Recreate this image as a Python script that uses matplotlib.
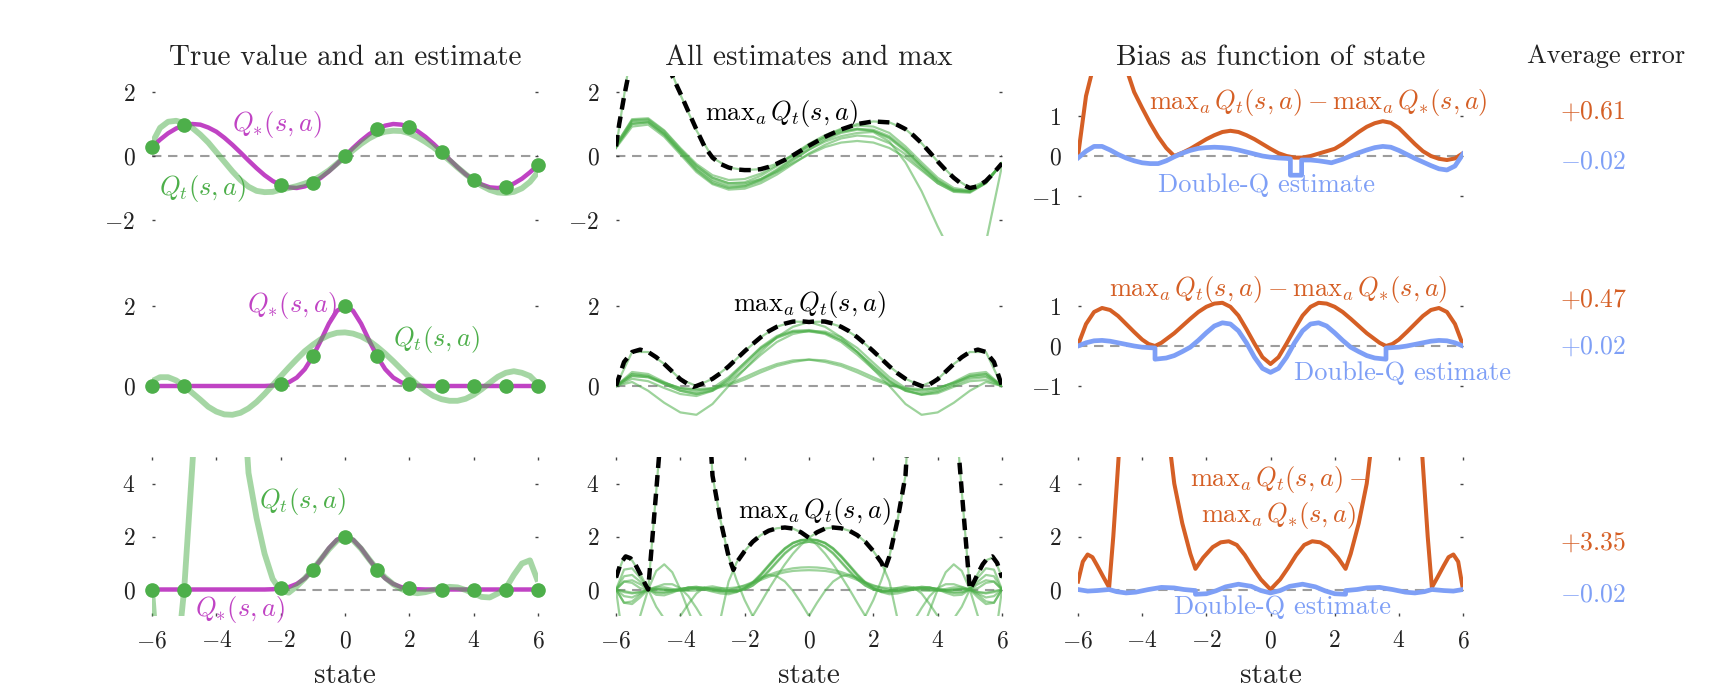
import numpy as np
import matplotlib
matplotlib.use('Agg')
import matplotlib.pyplot as plt

plt.rcParams['font.family'] = 'serif'
plt.rcParams['font.serif'] = ['cmr10']
plt.rcParams['mathtext.fontset'] = 'cm'
plt.rcParams['axes.unicode_minus'] = False

# ---- state grids ----
s_fine = [-6, -5.75, -5.5, -5.25, -5, -4.75, -4.5, -4.25, -4, -3.75, -3.5, -3.25,
          -3, -2.75, -2.5, -2.25, -2, -1.75, -1.5, -1.25, -1, -0.75, -0.5, -0.25,
          0, 0.25, 0.5, 0.75, 1, 1.25, 1.5, 1.75, 2, 2.25, 2.5, 2.75, 3, 3.25,
          3.5, 3.75, 4, 4.25, 4.5, 4.75, 5, 5.25, 5.5, 5.75, 6]
s_coarse = [-6, -5.5, -5, -4.5, -4, -3.5, -3, -2.5, -2, -1.5, -1, -0.5, 0,
            0.5, 1, 1.5, 2, 2.5, 3, 3.5, 4, 4.5, 5, 5.5, 6]
sample_states = [-6, -5, -2, -1, 0, 1, 2, 3, 4, 5, 6]

# ---- left column: true value and one estimate ----
qstar_sin = [0.28, 0.51, 0.71, 0.86, 0.96, 1.00, 0.98, 0.89, 0.76, 0.57, 0.35, 0.11,
             -0.14, -0.38, -0.60, -0.78, -0.91, -0.98, -1.00, -0.95, -0.84, -0.68, -0.48, -0.25,
             0.00, 0.25, 0.48, 0.68, 0.84, 0.95, 1.00, 0.98, 0.91, 0.78, 0.60, 0.38, 0.14,
             -0.11, -0.35, -0.57, -0.76, -0.89, -0.98, -1.00, -0.96, -0.86, -0.71, -0.51, -0.28]
qstar_gauss = [0, 0, 0, 0, 0, 0, 0, 0, 0, 0, 0, 0, 0, 0, 0,
               0.01, 0.04, 0.09, 0.21, 0.42, 0.74, 1.14, 1.56, 1.88, 2.00,
               1.88, 1.56, 1.14, 0.74, 0.42, 0.21, 0.09, 0.04, 0.01,
               0, 0, 0, 0, 0, 0, 0, 0, 0, 0, 0, 0, 0, 0, 0]
dots_sin = [0.28, 0.96, -0.91, -0.84, 0.0, 0.84, 0.91, 0.14, -0.76, -0.96, -0.28]
dots_gauss = [0, 0, 0.04, 0.74, 2.0, 0.74, 0.04, 0, 0, 0, 0]

qt_top = [0.40, 0.88, 1.07, 1.10, 1.03, 0.88, 0.67, 0.42, 0.12, -0.18,
          -0.48, -0.75, -0.96, -1.09, -1.13, -1.12, -1.05, -1.00, -0.94, -0.86,
          -0.77, -0.62, -0.45, -0.24, -0.03,
          0.18, 0.38, 0.55, 0.68, 0.76, 0.79, 0.78, 0.71, 0.59, 0.44,
          0.27, 0.07, -0.14, -0.36, -0.57, -0.76, -0.93, -1.06, -1.14, -1.16,
          -1.12, -1.01, -0.81, -0.50]
qt_mid = [0.12, 0.22, 0.22, 0.14, 0.00, -0.17, -0.34, -0.52, -0.64, -0.71,
          -0.72, -0.67, -0.56, -0.40, -0.20, 0.02, 0.24, 0.46, 0.67, 0.87,
          1.03, 1.17, 1.27, 1.33, 1.34,
          1.31, 1.24, 1.13, 0.98, 0.81, 0.62, 0.42, 0.22, 0.04, -0.12,
          -0.25, -0.33, -0.37, -0.37, -0.32, -0.22, -0.08, 0.08, 0.23, 0.33,
          0.37, 0.33, 0.25, 0.05]
qt_bot = [0.0, -4.0, -5.0, -3.0, 0.0, 4.6, 9.5, 13.0, 15.0, 15.0,
          13.0, 9.0, 4.4, 2.7, 1.35, 0.4, -0.05, -0.12, 0.12, 0.42,
          0.76, 1.14, 1.52, 1.84, 1.97,
          1.86, 1.54, 1.14, 0.76, 0.45, 0.2, 0.02, -0.1, -0.14, -0.1,
          -0.02, 0.05, 0.1, 0.08, -0.02, -0.15, -0.28, -0.3, -0.15, 0.05,
          0.55, 0.98, 1.1, 0.3]

# ---- middle column: all estimates (top row, coarse grid) ----
est_top_a = [0.25, 3.5, 4.5, 3.2, 1.92, 0.8, -0.05, -0.36, -0.44, -0.41, -0.24, 0.02, 0.32,
             0.6, 0.83, 1.0, 1.08, 1.05, 0.84, 0.4, -0.17, -0.68, -1.0, -0.78, -0.23]
est_top_b = [0.3, 1.0, 1.05, 0.65, 0.1, -0.45, -0.85, -1.0, -0.95, -0.75, -0.45, -0.1, 0.2,
             0.45, 0.62, 0.72, 0.75, 0.45, -0.2, -1.1, -2.2, -3.2, -3.4, -2.7, -0.3]
est_top_c1 = [0.35, 1.15, 1.18, 0.8, 0.25, -0.25, -0.6, -0.75, -0.72, -0.55, -0.28, 0.05, 0.38,
              0.65, 0.85, 0.95, 0.92, 0.72, 0.3, -0.2, -0.68, -1.0, -1.08, -0.8, -0.23]
est_top_c2 = [0.3, 1.1, 1.12, 0.72, 0.15, -0.38, -0.75, -0.92, -0.9, -0.72, -0.42, -0.06, 0.28,
              0.55, 0.75, 0.85, 0.82, 0.62, 0.22, -0.28, -0.75, -1.05, -1.1, -0.82, -0.23]
est_top_c3 = [0.25, 0.92, 0.98, 0.6, 0.05, -0.5, -0.88, -1.05, -1.02, -0.85, -0.58, -0.25, 0.08,
              0.35, 0.55, 0.64, 0.6, 0.4, 0.05, -0.4, -0.85, -1.12, -1.15, -0.85, -0.23]
est_top_c4 = [0.3, 1.05, 1.08, 0.7, 0.18, -0.32, -0.68, -0.85, -0.85, -0.72, -0.5, -0.22, 0.05,
              0.28, 0.42, 0.47, 0.42, 0.25, -0.05, -0.45, -0.85, -1.1, -1.12, -0.85, -0.23]
est_top_c5 = [0.35, 1.12, 1.15, 0.78, 0.22, -0.3, -0.68, -0.85, -0.82, -0.62, -0.32, 0.02, 0.35,
              0.6, 0.78, 0.85, 0.78, 0.55, 0.15, -0.33, -0.78, -1.06, -1.1, -0.82, -0.23]
est_top_c6 = [0.28, 1.0, 1.05, 0.68, 0.12, -0.42, -0.8, -0.98, -0.95, -0.78, -0.5, -0.15, 0.2,
              0.5, 0.72, 0.82, 0.78, 0.58, 0.18, -0.32, -0.78, -1.08, -1.12, -0.84, -0.23]
max_top_s = [-6, -5.9, -5.75, -5.6, -5.0, -4.5, -4.25, -4.0, -3.75, -3.5, -3.25, -3.0, -2.75,
             -2.5, -2.25, -2.0, -1.75, -1.5, -1.25, -1.0, -0.75, -0.5, -0.25, 0, 0.5, 1.0,
             1.5, 2.0, 2.5, 2.75, 3.0, 3.25, 3.5, 3.75, 4.0, 4.25, 4.5, 4.75, 5.0, 5.25,
             5.5, 5.75, 6.0]
max_top_v = [0.3, 1.0, 1.85, 2.6, 4.0, 3.2, 2.5, 1.96, 1.39, 0.83, 0.3, -0.05, -0.25,
             -0.36, -0.42, -0.44, -0.44, -0.41, -0.34, -0.24, -0.12, 0.02, 0.17, 0.32, 0.6, 0.83,
             1.0, 1.08, 1.05, 0.97, 0.84, 0.64, 0.4, 0.12, -0.17, -0.44, -0.68, -0.88, -1.0, -0.95,
             -0.78, -0.52, -0.23]

# ---- middle column: all estimates (middle row, coarse grid) ----
est_mid_dl = [0.0, 0.85, 0.85, 0.55, 0.17, 0.0, 0.18, 0.49, 0.87, 1.22, 1.48, 1.61, 1.6,
              1.48, 1.22, 0.85, 0.42, 0.0, -0.45, -0.72, -0.66, -0.42, -0.12, 0.1, 0.0]
est_mid_dr = [0.0, 0.1, -0.12, -0.42, -0.66, -0.72, -0.45, 0.0, 0.42, 0.85, 1.22, 1.48, 1.6,
              1.61, 1.48, 1.22, 0.87, 0.49, 0.18, 0.0, 0.17, 0.55, 0.85, 0.85, 0.0]
est_mid_m1 = [0.0, 0.35, 0.3, 0.1, -0.08, -0.15, -0.05, 0.22, 0.58, 0.95, 1.22, 1.36, 1.38,
              1.3, 1.1, 0.78, 0.42, 0.1, -0.12, -0.2, -0.12, 0.05, 0.25, 0.3, 0.0]
est_mid_m2 = [0.0, 0.3, 0.25, 0.05, -0.12, -0.2, -0.12, 0.1, 0.42, 0.78, 1.1, 1.3, 1.38,
              1.36, 1.22, 0.95, 0.58, 0.22, -0.05, -0.15, -0.08, 0.1, 0.3, 0.35, 0.0]
est_mid_m3 = [0.0, 0.25, 0.22, 0.05, -0.12, -0.2, -0.1, 0.15, 0.52, 0.92, 1.2, 1.35, 1.36,
              1.32, 1.15, 0.85, 0.48, 0.12, -0.12, -0.22, -0.15, 0.02, 0.18, 0.22, 0.0]
est_mid_m4 = [0.0, 0.18, 0.12, -0.05, -0.2, -0.25, -0.12, 0.18, 0.58, 0.97, 1.25, 1.38, 1.4,
              1.33, 1.15, 0.85, 0.5, 0.15, -0.1, -0.22, -0.18, -0.02, 0.12, 0.15, 0.0]
est_mid_l1 = [0.0, 0.3, 0.25, 0.08, -0.05, -0.08, -0.05, 0.05, 0.22, 0.4, 0.55, 0.64, 0.66,
              0.6, 0.5, 0.34, 0.16, 0.02, -0.08, -0.1, -0.05, 0.08, 0.22, 0.25, 0.0]
est_mid_l2 = [0.0, 0.25, 0.22, 0.08, -0.05, -0.1, -0.08, 0.02, 0.16, 0.34, 0.5, 0.6, 0.66,
              0.64, 0.55, 0.4, 0.22, 0.05, -0.05, -0.08, -0.05, 0.08, 0.25, 0.3, 0.0]
max_mid_s = [-6, -5.75, -5.5, -5.25, -5, -4.75, -4.5, -4.25, -4, -3.75, -3.6, -3.5, -3.25,
             -3, -2.75, -2.5, -2.25, -2, -1.75, -1.5, -1.25, -1, -0.75, -0.5, -0.25, 0,
             0.25, 0.5, 0.75, 1, 1.25, 1.5, 1.75, 2, 2.25, 2.5, 2.75, 3, 3.25, 3.5, 3.6,
             3.75, 4, 4.25, 4.5, 4.75, 5, 5.25, 5.5, 5.75, 6]
max_mid_v = [0.0, 0.6, 0.85, 0.91, 0.85, 0.72, 0.55, 0.36, 0.17, 0.04, -0.02, 0.0, 0.08,
             0.18, 0.32, 0.49, 0.68, 0.87, 1.05, 1.22, 1.37, 1.48, 1.56, 1.61, 1.62, 1.6,
             1.62, 1.61, 1.56, 1.48, 1.37, 1.22, 1.05, 0.87, 0.68, 0.49, 0.32, 0.18, 0.08, 0.0, -0.02,
             0.04, 0.17, 0.36, 0.55, 0.72, 0.85, 0.91, 0.85, 0.6, 0.0]

# ---- middle column: all estimates (bottom row, fine grid) ----
est_bot_el = [0.0, -2.2, -2.0, -1.0, 0.0, 3.7, 7.5, 11.0, 13.0, 14.0,
              13.0, 9.5, 4.3, 2.6, 1.25, 0.35, -0.4, -1.0, -1.5, -1.9,
              -2.1, -2.1, -1.9, -1.5, -1.0,
              -0.5, -0.05, 0.3, 0.5, 0.55, 0.45, 0.25, 0.05, -0.1, -0.18,
              -0.15, -0.08, 0.0, 0.05, 0.06, 0.03, -0.02, -0.03, 0.0, 0.0,
              -0.2, -0.45, -0.5, 0.0]
est_bot_er = [0.0, -0.5, -0.45, -0.2, 0.0, 0.0, -0.03, -0.02, 0.03, 0.06,
              0.05, 0.0, -0.08, -0.15, -0.18, -0.1, 0.05, 0.25, 0.45, 0.55,
              0.5, 0.3, -0.05, -0.5, -1.0,
              -1.5, -1.9, -2.1, -2.1, -1.9, -1.5, -1.0, -0.4, 0.35, 1.25,
              2.6, 4.3, 9.5, 13.0, 14.0, 13.0, 11.0, 7.5, 3.7, 0.0,
              -1.0, -2.0, -2.2, 0.0]
est_bot_fl = [0.0, 0.3, 0.25, 0.05, 0.0, 0.7, 0.95, 0.65, 0.0, -0.8,
              -1.6, -2.0, -1.8, -1.1, 0.3, 1.02, 1.45, 1.8, 2.05, 2.22,
              2.31, 2.34, 2.3, 2.16, 1.95,
              1.68, 1.35, 0.95, 0.5, 0.02, -0.5, -1.0, -1.5, -1.9, -2.1,
              -2.0, -1.7, -1.2, -0.7, -0.25, 0.05, 0.2, 0.2, 0.1, 0.0,
              -0.1, -0.12, -0.06, 0.0]
est_bot_fr = [0.0, -0.06, -0.12, -0.1, 0.0, 0.1, 0.2, 0.2, 0.05, -0.25,
              -0.7, -1.2, -1.7, -2.0, -2.1, -1.9, -1.5, -1.0, -0.5, 0.02,
              0.5, 0.95, 1.35, 1.68, 1.95,
              2.16, 2.3, 2.34, 2.31, 2.22, 2.05, 1.8, 1.45, 1.02, 0.3,
              -1.1, -1.8, -2.0, -1.6, -0.8, 0.0, 0.65, 0.95, 0.7, 0.0,
              0.05, 0.25, 0.3, 0.0]
est_bot_bl = [0.45, 1.22, 1.1, 0.6, 0.0, -0.65, -1.1, -1.25, -1.0, -0.55,
              -0.15, 0.08, 0.12, 0.06, -0.04, -0.08, 0.0, 0.15, 0.4, 0.72,
              1.05, 1.38, 1.62, 1.76, 1.8,
              1.76, 1.6, 1.35, 1.02, 0.68, 0.38, 0.15, 0.0, -0.06, -0.05,
              0.0, 0.04, 0.05, 0.03, 0.0, -0.02, -0.02, 0.0, 0.02, 0.0,
              -0.1, -0.15, -0.1, 0.0]
est_bot_br = [0.0, -0.1, -0.15, -0.1, 0.0, 0.02, 0.0, -0.02, -0.02, 0.0,
              0.03, 0.05, 0.04, 0.0, -0.05, -0.06, 0.0, 0.15, 0.38, 0.68,
              1.02, 1.35, 1.6, 1.76, 1.8,
              1.76, 1.62, 1.38, 1.05, 0.72, 0.4, 0.15, 0.0, -0.08, -0.04,
              0.06, 0.12, 0.08, -0.15, -0.55, -1.0, -1.25, -1.1, -0.65, 0.0,
              0.6, 1.1, 1.22, 0.45]
est_bot_g1 = [0.0, 0.3, 0.35, 0.2, 0.0, -0.1, -0.12, -0.08, 0.0, 0.08,
              0.1, 0.06, 0.0, -0.08, -0.12, -0.08, 0.05, 0.25, 0.55, 0.9,
              1.25, 1.55, 1.76, 1.87, 1.9,
              1.87, 1.76, 1.55, 1.25, 0.9, 0.55, 0.25, 0.05, -0.08, -0.12,
              -0.08, 0.0, 0.06, 0.1, 0.08, 0.0, -0.08, -0.12, -0.1, 0.0,
              0.2, 0.35, 0.3, 0.0]
est_bot_g3 = [0.0, 0.75, 0.8, 0.45, 0.0, -0.2, -0.22, -0.12, 0.0, 0.08,
              0.1, 0.06, 0.0, -0.05, -0.06, -0.02, 0.08, 0.28, 0.58, 0.93,
              1.27, 1.56, 1.76, 1.86, 1.88,
              1.85, 1.74, 1.52, 1.22, 0.88, 0.53, 0.24, 0.05, -0.06, -0.08,
              -0.04, 0.02, 0.06, 0.05, 0.0, -0.05, -0.05, 0.0, 0.02, 0.0,
              -0.3, -0.55, -0.5, 0.0]
est_bot_g4 = [0.0, -0.5, -0.55, -0.3, 0.0, 0.02, 0.0, -0.05, -0.05, 0.0,
              0.05, 0.06, 0.02, -0.04, -0.08, -0.06, 0.05, 0.24, 0.53, 0.88,
              1.22, 1.52, 1.74, 1.85, 1.88,
              1.86, 1.76, 1.56, 1.27, 0.93, 0.58, 0.28, 0.08, -0.02, -0.06,
              -0.05, 0.0, 0.06, 0.1, 0.08, 0.0, -0.12, -0.22, -0.2, 0.0,
              0.45, 0.8, 0.75, 0.0]
est_bot_h1 = [0.0, 0.5, 0.55, 0.3, 0.0, -0.12, -0.12, -0.05, 0.02, 0.06,
              0.05, 0.0, -0.05, -0.06, -0.02, 0.06, 0.16, 0.28, 0.42, 0.55,
              0.66, 0.74, 0.8, 0.83, 0.84,
              0.83, 0.8, 0.74, 0.66, 0.55, 0.42, 0.28, 0.16, 0.06, -0.02,
              -0.06, -0.05, 0.0, 0.05, 0.06, 0.02, -0.05, -0.12, -0.12, 0.0,
              0.3, 0.55, 0.5, 0.0]
est_bot_h2 = [0.0, -0.25, -0.3, -0.15, 0.0, 0.08, 0.08, 0.02, -0.03, -0.05,
              -0.04, 0.0, 0.04, 0.05, 0.05, 0.08, 0.14, 0.24, 0.36, 0.48,
              0.58, 0.65, 0.7, 0.72, 0.73,
              0.72, 0.7, 0.65, 0.58, 0.48, 0.36, 0.24, 0.14, 0.08, 0.05,
              0.05, 0.04, 0.0, -0.04, -0.05, -0.03, 0.02, 0.08, 0.08, 0.0,
              -0.15, -0.3, -0.25, 0.0]
max_bot_s = [-6, -5.85, -5.7, -5.55, -5.4, -5.25, -5.1, -5.0, -4.75, -4.5, -4.0, -3.5,
             -3.25, -3.0, -2.75, -2.5, -2.35, -2.25, -2.0, -1.75, -1.5, -1.25, -1.0,
             -0.75, -0.5, -0.25, 0, 0.25, 0.5, 0.75, 1.0, 1.25, 1.5, 1.75, 2.0, 2.25,
             2.35, 2.5, 2.75, 3.0, 3.25, 3.5, 4.0, 4.5, 4.75, 5.0, 5.1, 5.25, 5.4,
             5.55, 5.7, 5.85, 6]
max_bot_v = [0.45, 1.0, 1.25, 1.18, 0.95, 0.6, 0.22, 0.0, 3.7, 7.5, 13.0, 13.0,
             9.5, 4.3, 2.6, 1.25, 0.74, 1.02, 1.45, 1.8, 2.05, 2.22, 2.31,
             2.34, 2.3, 2.16, 1.95, 2.16, 2.3, 2.34, 2.31, 2.22, 2.05, 1.8, 1.45, 1.02,
             0.74, 1.25, 2.6, 4.3, 9.5, 13.0, 13.0, 7.5, 3.7, 0.0, 0.22, 0.6, 0.95,
             1.18, 1.25, 1.0, 0.45]

# ---- right column: bias ----
bias_top = [0.0, 1.5, 2.3, 3.0, 3.4, 3.0, 2.2, 1.6, 1.2, 0.82,
            0.48, 0.2, 0.0, 0.08, 0.18, 0.3, 0.42, 0.52, 0.6, 0.63,
            0.6, 0.52, 0.42, 0.3, 0.18,
            0.07, 0.0, -0.04, -0.04, 0.0, 0.06, 0.12, 0.18, 0.3, 0.45,
            0.6, 0.73, 0.82, 0.87, 0.83, 0.7, 0.5, 0.3, 0.12, 0.0,
            -0.07, -0.1, -0.06, 0.07]
dq_top_s = [-6, -5.75, -5.5, -5.25, -5, -4.75, -4.5, -4.25, -4, -3.75, -3.5, -3.25, -3,
            -2.75, -2.5, -2.25, -2, -1.75, -1.5, -1.25, -1, -0.75, -0.5, -0.25, 0, 0.25,
            0.5, 0.62, 0.62, 0.97, 0.97, 1.25, 1.5, 1.75, 1.9, 2.25, 2.5, 2.75, 3, 3.25,
            3.5, 3.75, 4, 4.25, 4.5, 4.75, 5, 5.25, 5.5, 5.75, 6]
dq_top_v = [-0.05, 0.12, 0.24, 0.24, 0.15, 0.04, -0.05, -0.12, -0.17, -0.19, -0.19, -0.12, -0.02,
            0.07, 0.14, 0.19, 0.21, 0.22, 0.21, 0.19, 0.15, 0.1, 0.05, 0.0, -0.03, -0.05,
            -0.06, -0.07, -0.48, -0.48, -0.1, -0.1, -0.12, -0.15, -0.17, -0.08, 0.0, 0.08, 0.15, 0.21,
            0.24, 0.22, 0.14, 0.04, -0.06, -0.15, -0.24, -0.32, -0.35, -0.25, 0.05]

bias_mid_s = [-6, -5.75, -5.5, -5.25, -5, -4.75, -4.5, -4.25, -4, -3.8, -3.6, -3.4, -3.25,
              -3, -2.75, -2.5, -2.25, -2, -1.75, -1.5, -1.25, -1, -0.75, -0.5, -0.25, 0,
              0.25, 0.5, 0.75, 1, 1.25, 1.5, 1.75, 2, 2.25, 2.5, 2.75, 3, 3.25, 3.4, 3.6,
              3.8, 4, 4.25, 4.5, 4.75, 5, 5.25, 5.5, 5.75, 6]
bias_mid_v = [0.02, 0.55, 0.85, 0.95, 0.9, 0.75, 0.55, 0.35, 0.16, 0.05, 0.0, 0.08, 0.17,
              0.32, 0.5, 0.68, 0.85, 0.98, 1.06, 1.08, 0.98, 0.76, 0.42, 0.06, -0.28, -0.45,
              -0.28, 0.06, 0.42, 0.76, 0.98, 1.08, 1.06, 0.98, 0.85, 0.68, 0.5, 0.32, 0.17, 0.08, 0.0,
              0.05, 0.16, 0.35, 0.55, 0.75, 0.9, 0.95, 0.85, 0.55, 0.02]
dq_mid_s = [-6, -5.75, -5.5, -5.25, -5, -4.75, -4.5, -4.25, -4, -3.6, -3.6, -3.25, -3,
            -2.75, -2.5, -2.25, -2, -1.75, -1.5, -1.25, -1, -0.75, -0.5, -0.25, 0,
            0.25, 0.5, 0.75, 1, 1.25, 1.5, 1.75, 2, 2.25, 2.5, 2.75, 3, 3.25, 3.6, 3.6,
            4, 4.25, 4.5, 4.75, 5, 5.25, 5.5, 5.75, 6]
dq_mid_v = [0.0, 0.08, 0.13, 0.14, 0.12, 0.08, 0.04, 0.0, -0.03, -0.05, -0.33, -0.3, -0.24,
            -0.14, -0.03, 0.14, 0.33, 0.5, 0.58, 0.55, 0.38, 0.08, -0.28, -0.56, -0.66,
            -0.56, -0.28, 0.08, 0.38, 0.55, 0.58, 0.5, 0.33, 0.14, -0.03, -0.14, -0.24, -0.3, -0.33, -0.05,
            -0.03, 0.0, 0.04, 0.08, 0.12, 0.14, 0.13, 0.08, 0.0]

bias_bot_s = [-6, -5.85, -5.7, -5.55, -5.4, -5.2, -5.03, -4.9, -4.75, -4.6, -4.0, -3.5,
              -3.2, -3.0, -2.75, -2.5, -2.34, -2.1, -1.8, -1.55, -1.3, -1.05, -0.8, -0.55,
              -0.3, 0, 0.3, 0.55, 0.8, 1.05, 1.3, 1.55, 1.8, 2.1, 2.34, 2.5, 2.75, 3.0,
              3.2, 3.5, 4.0, 4.6, 4.75, 4.9, 5.03, 5.2, 5.4, 5.55, 5.7, 5.85, 6]
bias_bot_v = [0.3, 1.05, 1.32, 1.22, 0.9, 0.45, 0.08, 2.0, 4.7, 7.5, 12.0, 10.0,
              6.0, 4.0, 2.5, 1.35, 0.78, 1.2, 1.6, 1.78, 1.82, 1.68, 1.3, 0.82,
              0.38, 0.0, 0.38, 0.82, 1.3, 1.68, 1.82, 1.78, 1.6, 1.2, 0.78, 1.35, 2.5, 4.0,
              6.0, 10.0, 12.0, 7.5, 4.7, 2.0, 0.08, 0.45, 0.9, 1.22, 1.32, 1.05, 0.0]
dq_bot_s = [-6, -5.7, -5.4, -5.03, -4.8, -4.5, -4.2, -3.8, -3.4, -3.0, -2.7, -2.34, -2.34,
            -2.0, -1.7, -1.4, -1.0, -0.6, -0.3, 0, 0.3, 0.6, 1.0, 1.4, 1.7, 2.0, 2.34,
            2.34, 2.7, 3.0, 3.4, 3.8, 4.2, 4.5, 4.8, 5.03, 5.4, 5.7, 6]
dq_bot_v = [0.0, -0.06, -0.04, 0.0, -0.08, -0.13, -0.1, 0.0, 0.08, 0.06, 0.0, -0.04, -0.18,
            -0.16, -0.05, 0.1, 0.2, 0.12, -0.04, -0.13, -0.04, 0.12, 0.2, 0.1, -0.05, -0.16, -0.18,
            -0.04, 0.0, 0.06, 0.08, 0.0, -0.1, -0.13, -0.08, 0.0, -0.04, -0.06, 0.0]

avg_error_max = ['+0.61', '+0.47', '+3.35']
avg_error_double = ['-0.02', '+0.02', '-0.02']

# ---- colours ----
MAGENTA = '#C043C4'
GREEN = '#4DAF4A'
ORANGE = '#D55F25'
BLUE = '#7E9FF6'
GRAY = '#9c9c9c'

W, H = 1728, 694
col_px = [(152, 538), (616, 1002), (1078, 1463)]
row_px = [(76, 236), (266, 426), (457, 616)]

fig = plt.figure(figsize=(W / 100, H / 100), dpi=100)
axes = [[fig.add_axes([x0 / W, 1 - y1 / H, (x1 - x0) / W, (y1 - y0) / H])
         for (x0, x1) in col_px] for (y0, y1) in row_px]

ylims = [[(-2.5, 2.5), (-2.5, 2.5), (-2, 2)],
         [(-1, 3), (-1, 3), (-2, 2)],
         [(-1, 5), (-1, 5), (-1, 5)]]
yticks = [[[-2, 0, 2], [-2, 0, 2], [-1, 0, 1]],
          [[0, 2], [0, 2], [-1, 0, 1]],
          [[0, 2, 4], [0, 2, 4], [0, 2, 4]]]
xticks = [-6, -4, -2, 0, 2, 4, 6]

for r in range(3):
    for c in range(3):
        ax = axes[r][c]
        ax.set_xlim(-6, 6)
        ax.set_ylim(*ylims[r][c])
        for sp in ax.spines.values():
            sp.set_visible(False)
        ax.set_yticks(yticks[r][c])
        ax.set_yticklabels(['$%d$' % t for t in yticks[r][c]])
        ax.tick_params(axis='y', direction='in', length=2.5, width=1.0, left=True, right=True,
                       labelsize=17, pad=12, color='#444444', labelcolor='#222222')
        if r == 2:
            ax.set_xticks(xticks)
            ax.set_xticklabels(['$%d$' % t for t in xticks])
            ax.tick_params(axis='x', direction='in', length=2.5, width=1.0, top=True, bottom=True,
                           labelsize=17, pad=10, color='#444444', labelcolor='#222222')
            ax.set_xlabel('state', fontsize=21, labelpad=8, color='#222222')
        else:
            ax.set_xticks([])
        ax.axhline(0, color=GRAY, lw=1.5, dashes=(4.5, 3.2), zorder=1)

# left column
left_true = [qstar_sin, qstar_gauss, qstar_gauss]
left_est = [qt_top, qt_mid, qt_bot]
left_dots = [dots_sin, dots_gauss, dots_gauss]
for r in range(3):
    ax = axes[r][0]
    ax.plot(s_fine, left_true[r], color=MAGENTA, lw=3.2, zorder=2, solid_capstyle='butt')
    ax.plot(s_fine, left_est[r], color=GREEN, lw=4.2, alpha=0.5, zorder=3, solid_capstyle='butt')
    ax.plot(sample_states, left_dots[r], 'o', color=GREEN, ms=9.5, zorder=4, clip_on=False)

axes[0][0].text(-3.5, 0.98, r'$Q_{*}(s,a)$', color=MAGENTA, fontsize=19, va='center')
axes[0][0].text(-5.78, -1.0, r'$Q_t(s,a)$', color=GREEN, fontsize=19, va='center')
axes[1][0].text(-3.05, 2.02, r'$Q_{*}(s,a)$', color=MAGENTA, fontsize=19, va='center')
axes[1][0].text(1.49, 1.16, r'$Q_t(s,a)$', color=GREEN, fontsize=19, va='center')
axes[2][0].text(-2.67, 3.32, r'$Q_t(s,a)$', color=GREEN, fontsize=19, va='center')
axes[2][0].text(-4.66, -0.75, r'$Q_{*}(s,a)$', color=MAGENTA, fontsize=19, va='center')

# middle column
mid_sets = [
    (s_coarse, [est_top_a, est_top_b, est_top_c1, est_top_c2, est_top_c3, est_top_c4,
                est_top_c5, est_top_c6], max_top_s, max_top_v),
    (s_coarse, [est_mid_dl, est_mid_dr, est_mid_m1, est_mid_m2, est_mid_m3, est_mid_m4,
                est_mid_l1, est_mid_l2], max_mid_s, max_mid_v),
    (s_fine, [est_bot_el, est_bot_er, est_bot_fl, est_bot_fr, est_bot_bl, est_bot_br,
              est_bot_g1, est_bot_g3, est_bot_g4, est_bot_h1, est_bot_h2], max_bot_s, max_bot_v),
]
max_label = r'$\mathrm{max}_a\,Q_t(s,a)$'
label_pos = [(-3.23, 1.34), (-2.36, 2.05), (-2.21, 2.94)]
for r, (grid, curves, ms_, mv_) in enumerate(mid_sets):
    ax = axes[r][1]
    for cv in curves:
        ax.plot(grid, cv, color=GREEN, lw=1.6, alpha=0.55, zorder=2)
    ax.plot(ms_, mv_, color='black', lw=3.2, dashes=(2.6, 1.6), dash_capstyle='butt', zorder=3)
    ax.text(label_pos[r][0], label_pos[r][1], max_label, color='black', fontsize=19, va='center')

# right column
bias_lines = [(s_fine, bias_top, dq_top_s, dq_top_v),
              (bias_mid_s, bias_mid_v, dq_mid_s, dq_mid_v),
              (bias_bot_s, bias_bot_v, dq_bot_s, dq_bot_v)]
for r, (bs, bv, ds, dv) in enumerate(bias_lines):
    ax = axes[r][2]
    ax.plot(bs, bv, color=ORANGE, lw=2.9, zorder=2)
    ax.plot(ds, dv, color=BLUE, lw=3.4, zorder=3)

diff_label = r'$\mathrm{max}_a\,Q_t(s,a)-\mathrm{max}_a\,Q_{*}(s,a)$'
axes[0][2].text(-3.79, 1.35, diff_label, color=ORANGE, fontsize=19, va='center')
axes[0][2].text(-3.5, -0.73, 'Double-Q estimate', color=BLUE, fontsize=19, va='center')
axes[1][2].text(-5.02, 1.41, diff_label, color=ORANGE, fontsize=19, va='center')
axes[1][2].text(0.72, -0.67, 'Double-Q estimate', color=BLUE, fontsize=19, va='center')
axes[2][2].text(0.27, 3.47, r'$\mathrm{max}_a\,Q_t(s,a)-$' + '\n' + r'$\mathrm{max}_a\,Q_{*}(s,a)$',
                color=ORANGE, fontsize=19, va='center', ha='center', multialignment='center')
axes[2][2].text(-3.01, -0.68, 'Double-Q estimate', color=BLUE, fontsize=19, va='center')

# titles
titles = ['True value and an estimate', 'All estimates and max', 'Bias as function of state']
for c in range(3):
    axes[0][c].set_title(titles[c], fontsize=21, pad=8, color='#222222')
fig.text(1606 / W, 1 - 63 / H, 'Average error', fontsize=19, ha='center', va='baseline',
         color='#222222')

num_y = [(111.5, 161.5), (299.5, 347), (542.5, 595)]
for r in range(3):
    fig.text(1560 / W, 1 - num_y[r][0] / H, '$%s$' % avg_error_max[r], color=ORANGE,
             fontsize=18.5, va='center', ha='left')
    fig.text(1560 / W, 1 - num_y[r][1] / H, '$%s$' % avg_error_double[r], color=BLUE,
             fontsize=18.5, va='center', ha='left')

fig.savefig('out.png', dpi=100, facecolor='white')
